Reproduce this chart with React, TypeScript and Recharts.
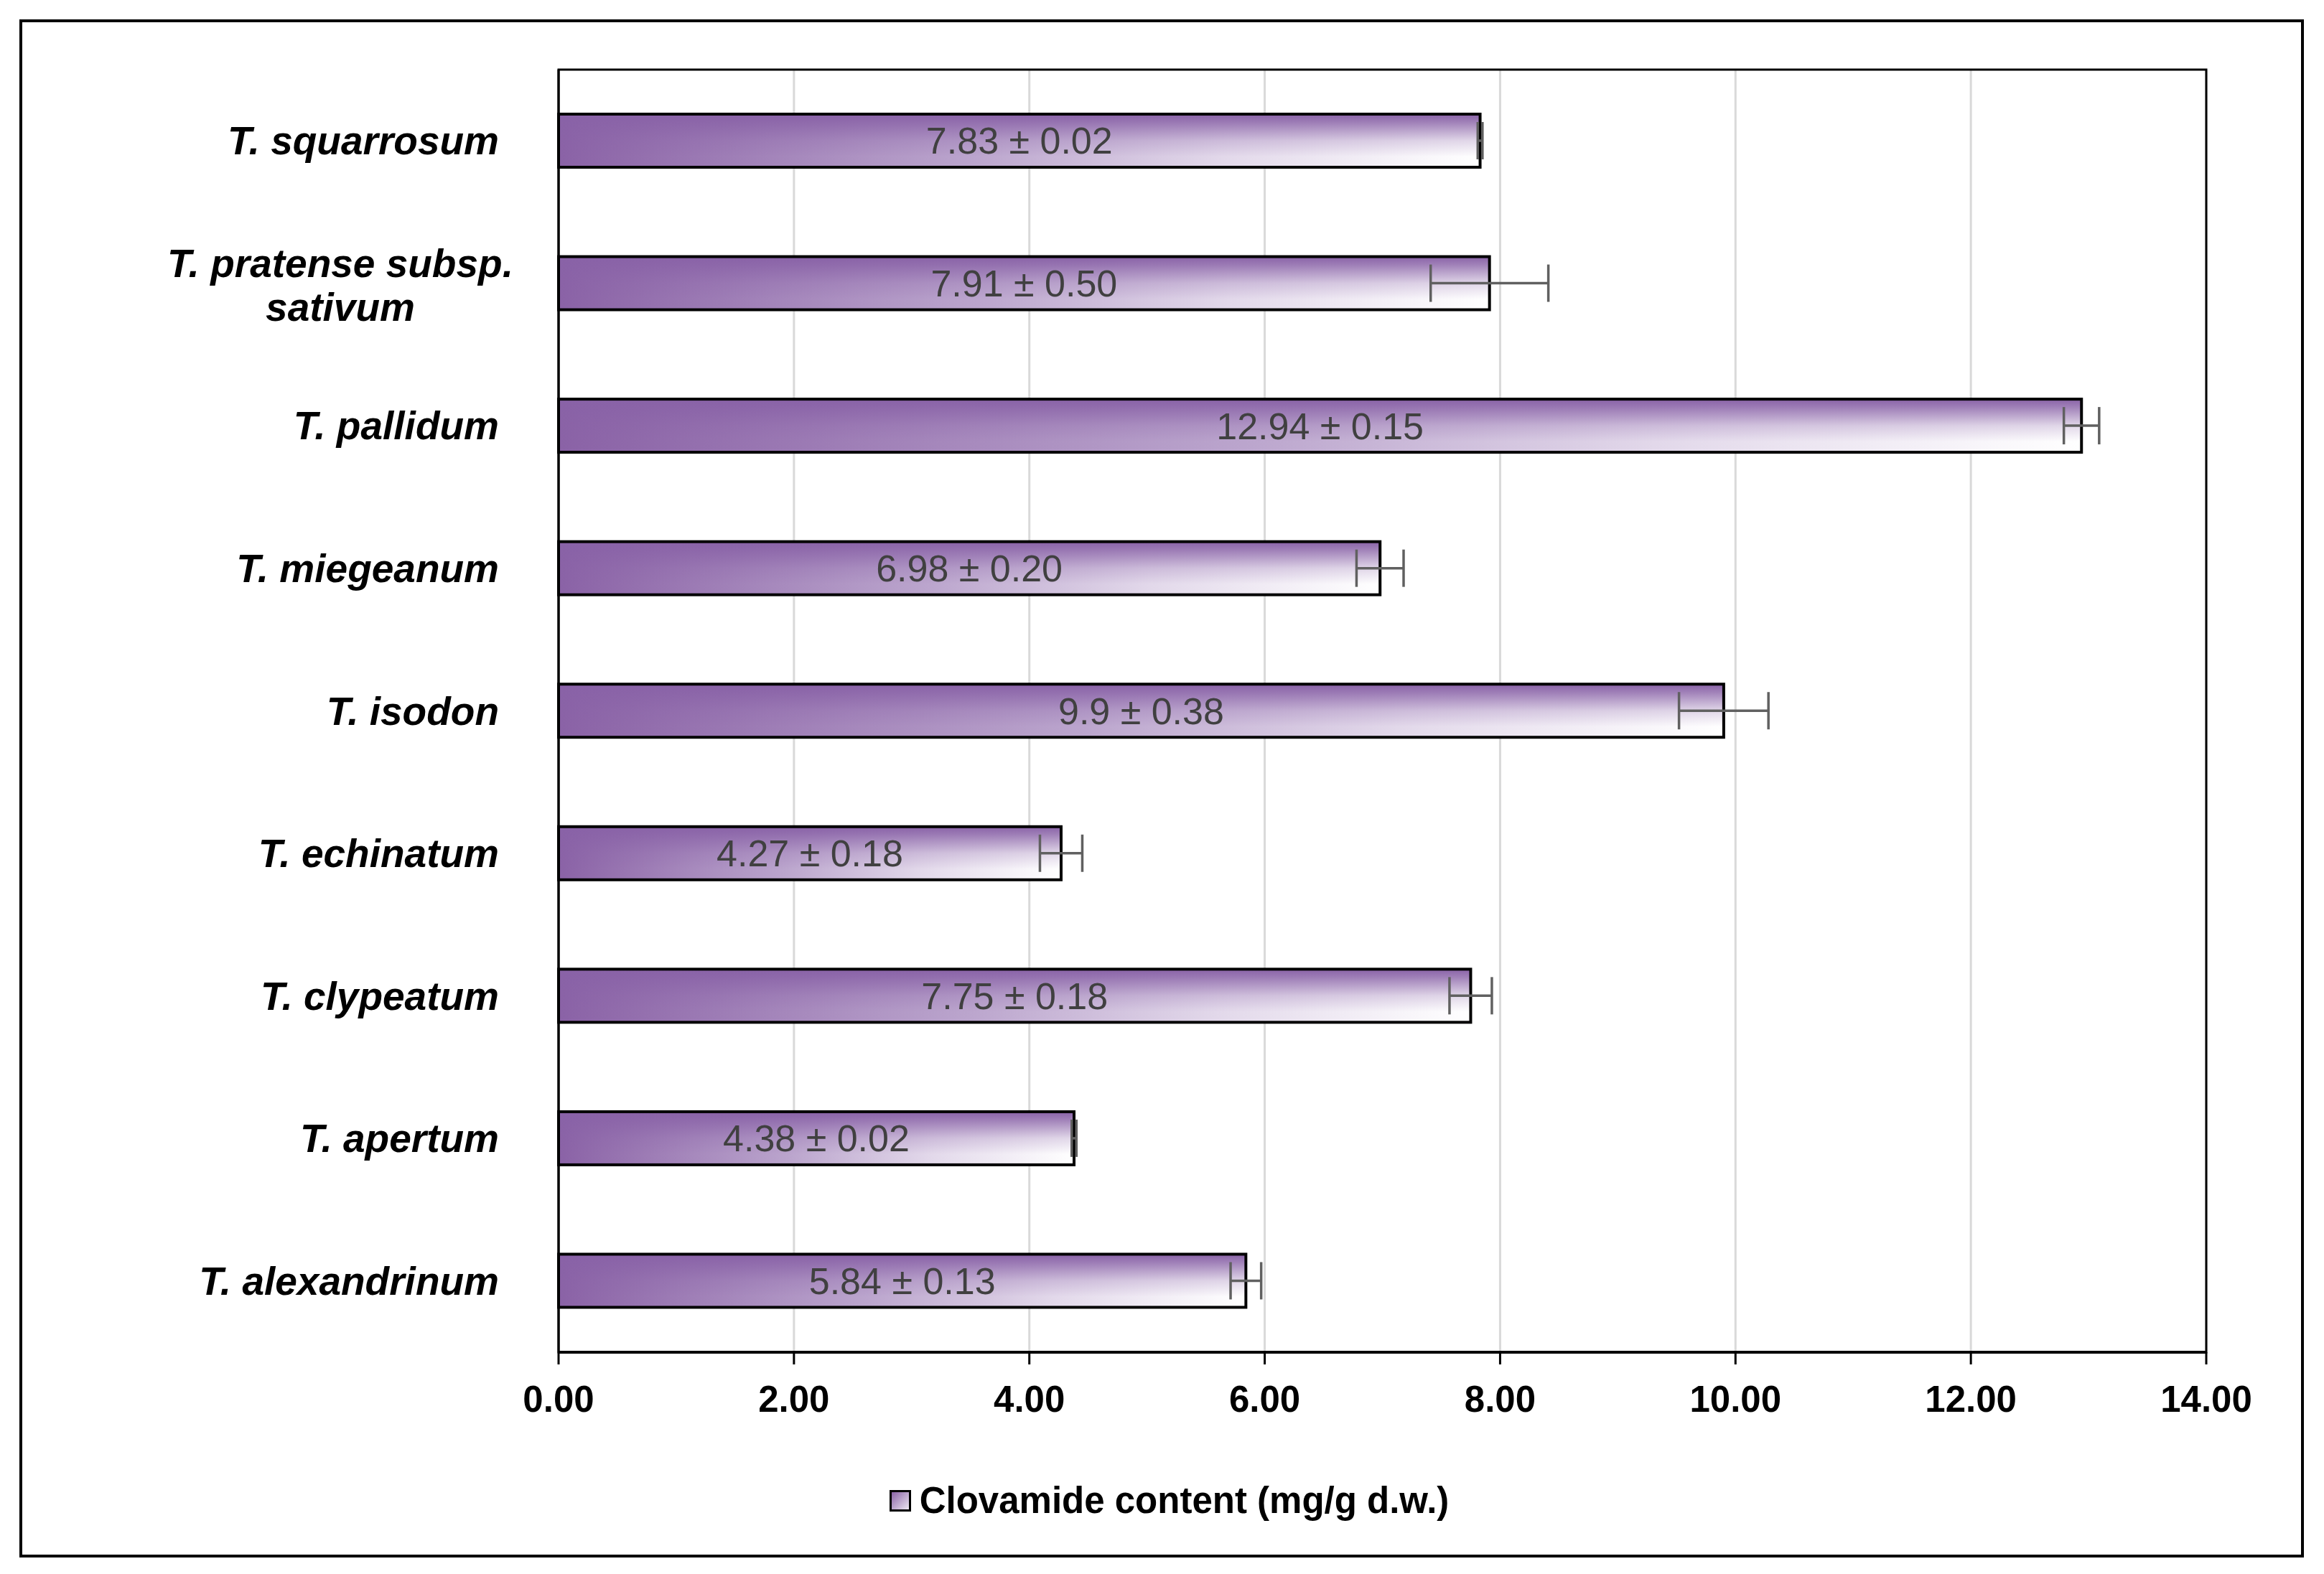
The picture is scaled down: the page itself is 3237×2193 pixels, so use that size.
import React from "react";
import { BarChart, Bar, XAxis, YAxis, CartesianGrid, ErrorBar, LabelList, Legend, ReferenceArea } from "recharts";

const species = [
  "T. squarrosum",
  "T. pratense subsp.\nsativum",
  "T. pallidum",
  "T. miegeanum",
  "T. isodon",
  "T. echinatum",
  "T. clypeatum",
  "T. apertum",
  "T. alexandrinum",
];
const clovamide = [7.83, 7.91, 12.94, 6.98, 9.9, 4.27, 7.75, 4.38, 5.84];
const sd = [0.02, 0.5, 0.15, 0.2, 0.38, 0.18, 0.18, 0.02, 0.13];
const xTicks = [0, 2, 4, 6, 8, 10, 12, 14];
const seriesName = "Clovamide content (mg/g d.w.)";

const data = species.map((name, i) => ({
  name,
  value: clovamide[i],
  err: sd[i],
  label: `${clovamide[i]} ± ${sd[i].toFixed(2)}`,
}));

const FONT = "'Liberation Sans', Arial, sans-serif";

function BarShape(props: any) {
  const { x, y, width, height } = props;
  if (!width || !height) return null;
  return (
    <g>
      <rect x={x} y={y} width={width} height={height} fill="url(#barH)" />
      <rect x={x} y={y} width={width} height={height} fill="url(#barV)" />
      <rect x={x} y={y} width={width} height={height} fill="none" stroke="#000" strokeWidth={4} />
    </g>
  );
}

function SpeciesTick(props: any) {
  const { x, y, payload } = props;
  const lines = String(payload.value).split("\n");
  const style = { fontFamily: FONT, fontWeight: 700, fontStyle: "italic", fontSize: 55 };
  if (lines.length === 1) {
    return (
      <text x={x - 83} y={y} dy={19} textAnchor="end" fill="#000" style={style}>
        {lines[0]}
      </text>
    );
  }
  return (
    <text x={x - 304} y={y} textAnchor="middle" fill="#000" style={style}>
      <tspan x={x - 304} dy={-9}>{lines[0]}</tspan>
      <tspan x={x - 304} dy={61}>{lines[1]}</tspan>
    </text>
  );
}

function LegendBox(props: any) {
  const item = props.payload && props.payload[0];
  return (
    <div style={{ display: "flex", justifyContent: "center", alignItems: "center", height: 60 }}>
      <div
        style={{
          width: 24,
          height: 24,
          border: "3px solid #000",
          background: "linear-gradient(135deg, #8A62A6, #EDE6F2)",
          marginRight: 12,
        }}
      />
      <span style={{ fontFamily: FONT, fontWeight: 700, fontSize: 51, color: "#000", lineHeight: "60px" }}>
        {item ? item.value : seriesName}
      </span>
    </div>
  );
}

export default function App() {
  return (
    <div style={{ position: "relative", width: 3237, height: 2193, background: "#fff" }}>
      <style>{`body{margin:0;background:#fff}`}</style>
      <div
        style={{
          position: "absolute",
          left: 27,
          top: 27,
          width: 3182,
          height: 2143,
          border: "4px solid #000",
          boxSizing: "border-box",
        }}
      />
      <div style={{ position: "absolute", left: 0, top: 0 }}>
        <BarChart
          width={3237}
          height={2193}
          data={data}
          layout="vertical"
          margin={{ top: 97, right: 164, bottom: 209, left: 0 }}
        >
          <defs>
            <linearGradient id="barH" x1="0" y1="0" x2="1" y2="0">
              <stop offset="0" stopColor="#8A62A6" />
              <stop offset="0.45" stopColor="#BBA5CD" />
              <stop offset="0.72" stopColor="#E2D8EA" />
              <stop offset="1" stopColor="#FFFFFF" />
            </linearGradient>
            <linearGradient id="barV" x1="0" y1="0" x2="0" y2="1">
              <stop offset="0" stopColor="#8962A7" stopOpacity={1} />
              <stop offset="0.15" stopColor="#8962A7" stopOpacity={0.8} />
              <stop offset="0.5" stopColor="#8962A7" stopOpacity={0.25} />
              <stop offset="0.8" stopColor="#8962A7" stopOpacity={0} />
            </linearGradient>
          </defs>
          <CartesianGrid horizontal={false} stroke="#D9D9D9" strokeWidth={3} />
          <ReferenceArea x1={0} x2={14} fill="none" fillOpacity={0} stroke="#000" strokeWidth={3} ifOverflow="visible" />
          <XAxis
            type="number"
            domain={[0, 14]}
            ticks={xTicks}
            interval={0}
            tickFormatter={(v: number) => v.toFixed(2)}
            axisLine={{ stroke: "#000", strokeWidth: 4 }}
            tickLine={{ stroke: "#000", strokeWidth: 3 }}
            tickSize={17}
            tickMargin={30}
            height={100}
            tick={{ fill: "#000", fontFamily: FONT, fontWeight: 700, fontSize: 51 }}
          />
          <YAxis
            type="category"
            dataKey="name"
            width={778}
            interval={0}
            tickSize={0}
            tickMargin={0}
            tickLine={false}
            axisLine={{ stroke: "#000", strokeWidth: 3 }}
            tick={<SpeciesTick />}
          />
          <Legend
            verticalAlign="middle"
            align="center"
            content={<LegendBox />}
            wrapperStyle={{ top: 2061, left: 10, width: 3237, height: 60 }}
          />
          <Bar dataKey="value" name={seriesName} barSize={74} shape={<BarShape />} isAnimationActive={false}>
            <LabelList
              dataKey="label"
              position="center"
              fill="#404040"
              style={{ fontFamily: FONT, fontSize: 52 }}
            />
            <ErrorBar dataKey="err" direction="x" width={26} stroke="#606060" strokeWidth={3.5} />
          </Bar>
        </BarChart>
      </div>
    </div>
  );
}
